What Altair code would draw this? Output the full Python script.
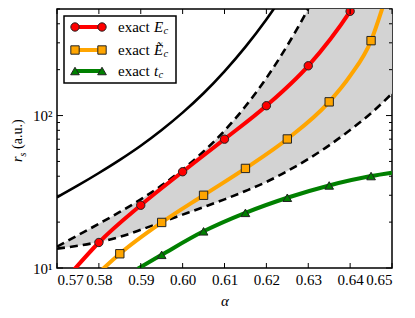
import altair as alt
import pandas as pd

# ---- data ----
band_alpha = [0.57, 0.575, 0.58, 0.585, 0.59, 0.595, 0.60, 0.605, 0.61, 0.615,
              0.62, 0.625, 0.63, 0.635, 0.64, 0.645, 0.65]
band_upper = [13.8, 16.4, 19.5, 23.3, 28.2, 34.8, 44.2, 58.1, 79.6, 115,
              176, 288, 502, 933, 1600, 2700, 4400]
band_lower = [13.4, 14.0, 14.8, 16.0, 17.8, 20.0, 22.4, 25.1, 28.2, 32.0,
              36.7, 43.2, 51.9, 63.8, 80.4, 103.5, 139.6]

solid_alpha = [0.57, 0.575, 0.58, 0.585, 0.59, 0.595, 0.60, 0.605, 0.61, 0.615, 0.62, 0.625]
solid_rs = [29.1, 34.8, 42.0, 51.2, 63.4, 80.4, 104.5, 140, 195, 282, 427, 676]

# exact E_c (red circles)
E_alpha = [0.58, 0.59, 0.60, 0.61, 0.62, 0.63, 0.64]
E_rs = [14.7, 25.8, 42.8, 70.0, 116, 212, 483]
E_line_alpha = [0.574] + E_alpha + [0.6415]
E_line_rs = [9.7] + E_rs + [560]

# exact E~_c (orange squares)
Et_alpha = [0.585, 0.595, 0.605, 0.615, 0.625, 0.635, 0.645]
Et_rs = [12.4, 19.9, 30.0, 45.0, 70.2, 123, 310]
Et_line_alpha = [0.5805, 0.585, 0.595, 0.605, 0.615, 0.625, 0.635, 0.64, 0.645, 0.6482]
Et_line_rs = [9.6, 12.4, 19.9, 30.0, 45.0, 70.2, 123, 182, 310, 560]

# exact t_c (green triangles)
t_alpha = [0.595, 0.605, 0.615, 0.625, 0.635, 0.645]
t_rs = [12.2, 17.4, 23.0, 28.9, 34.8, 40.1]
t_line_alpha = [0.5893] + t_alpha + [0.65]
t_line_rs = [9.9] + t_rs + [42.2]

x_ticks = [0.57, 0.58, 0.59, 0.60, 0.61, 0.62, 0.63, 0.64, 0.65]
y_major = [10, 100]
y_minor = [20, 30, 40, 50, 60, 70, 80, 90, 200, 300, 400, 500]

W, H = 335, 259
FONT = "Liberation Serif, Times New Roman, DejaVu Serif, serif"

xs = alt.Scale(domain=[0.57, 0.65], nice=False, zero=False)
ys = alt.Scale(type="log", domain=[10, 500], nice=False)
X = alt.X("a:Q", scale=xs, axis=alt.Axis(values=x_ticks, format=".2f", ticks=False, domain=False,
                                        grid=False, labelPadding=4, title="α",
                                        titleFontStyle="italic", titleFontWeight="normal",
                                        titleFontSize=15, titleFont=FONT, titlePadding=6))
Y = alt.Y("r:Q", scale=ys, axis=alt.Axis(values=y_major, ticks=False, domain=False, grid=False,
                                        labelPadding=5, title=None,
                                        labelExpr="datum.value == 10 ? '10¹' : '10²'"))


def df(a, r):
    return pd.DataFrame({"a": a, "r": r})


band = pd.DataFrame({"a": band_alpha, "r": band_upper, "r2": band_lower})

area = alt.Chart(band).mark_area(color="#d3d3d3", clip=True, interpolate="monotone").encode(
    x=X, y=Y, y2="r2:Q")

dash_up = alt.Chart(df(band_alpha, band_upper)).mark_line(
    color="black", strokeWidth=2.6, strokeDash=[8, 5], clip=True, interpolate="monotone").encode(x=X, y=Y)
dash_lo = alt.Chart(df(band_alpha, band_lower)).mark_line(
    color="black", strokeWidth=2.6, strokeDash=[8, 5], clip=True, interpolate="monotone").encode(x=X, y=Y)
solid = alt.Chart(df(solid_alpha, solid_rs)).mark_line(
    color="black", strokeWidth=2.6, clip=True, interpolate="monotone").encode(x=X, y=Y)


def curve(a, r, color):
    return alt.Chart(df(a, r)).mark_line(color=color, strokeWidth=4, clip=True,
                                          interpolate="monotone").encode(x=X, y=Y)


def pts(a, r, color, shape, size):
    return alt.Chart(df(a, r)).mark_point(shape=shape, filled=True, fill=color, stroke="#222222",
                                           strokeWidth=1, size=size, opacity=1, clip=True).encode(x=X, y=Y)


red = "#ff0000"
orange = "#ffa500"
green = "#008000"

layers = [
    area, solid, dash_up, dash_lo,
    curve(E_line_alpha, E_line_rs, red),
    curve(Et_line_alpha, Et_line_rs, orange),
    curve(t_line_alpha, t_line_rs, green),
    pts(E_alpha, E_rs, red, "circle", 70),
    pts(Et_alpha, Et_rs, orange, "square", 70),
    pts(t_alpha, t_rs, green, "triangle-up", 75),
]

# inward ticks on all four sides
xt = pd.DataFrame({"a": x_ticks})
layers += [
    alt.Chart(xt).mark_rule(color="black", strokeWidth=1).encode(x=X, y=alt.value(H), y2=alt.value(H - 5)),
    alt.Chart(xt).mark_rule(color="black", strokeWidth=1).encode(x=X, y=alt.value(0), y2=alt.value(5)),
]
for vals, ln in ((y_major, 6), (y_minor, 3)):
    yt = pd.DataFrame({"r": vals})
    layers += [
        alt.Chart(yt).mark_rule(color="black", strokeWidth=1).encode(y=Y, x=alt.value(0), x2=alt.value(ln)),
        alt.Chart(yt).mark_rule(color="black", strokeWidth=1).encode(y=Y, x=alt.value(W), x2=alt.value(W - ln)),
    ]

one = pd.DataFrame({"k": [0]})


def txt(x, y, text, size=15, style="normal", angle=0, baseline="middle"):
    return alt.Chart(one).mark_text(text=text, align="left", baseline=baseline, font=FONT, fontSize=size,
                                    fontStyle=style, angle=angle, color="black").encode(
        x=alt.value(x), y=alt.value(y))


# legend
layers.append(alt.Chart(one).mark_rect(fill="white", stroke="black", strokeWidth=1.5).encode(
    x=alt.value(7), x2=alt.value(119), y=alt.value(7), y2=alt.value(74)))
legend_entries = [(18, red, "circle", "E", 70), (41, orange, "square", "Ẽ", 70),
                  (62, green, "triangle-up", "t", 75)]
for y, color, shape, sym, size in legend_entries:
    layers.append(alt.Chart(one).mark_rule(color=color, strokeWidth=4).encode(
        x=alt.value(18), x2=alt.value(45), y=alt.value(y)))
    for xp in (18, 45):
        layers.append(alt.Chart(one).mark_point(shape=shape, filled=True, fill=color, stroke="#222222",
                                                strokeWidth=1, size=size, opacity=1).encode(
            x=alt.value(xp), y=alt.value(y)))
    layers.append(txt(61, y, "exact"))
    layers.append(txt(97, y, sym, style="italic"))
    sub_x = 106.5 if sym != "t" else 101.5
    layers.append(txt(sub_x, y + 4, "c", size=10.5, style="italic"))

# y-axis title r_s (a.u.)
layers += [
    txt(-35, 153, "r", size=14, style="italic", angle=270, baseline="alphabetic"),
    txt(-31.5, 147.5, "s", size=10, style="italic", angle=270, baseline="alphabetic"),
    txt(-35, 140, "(a.u.)", size=14, angle=270, baseline="alphabetic"),
]

chart = alt.layer(*layers).properties(
    width=W, height=H,
    autosize=alt.AutoSizeParams(type="none"),
    padding={"left": 49, "top": 1, "right": 15, "bottom": 42},
).configure_view(stroke="black", strokeWidth=1.5).configure_axis(
    labelFont=FONT, labelFontSize=15, labelColor="black")

chart.save("out.html", embed_options={"renderer": "svg", "actions": False})
